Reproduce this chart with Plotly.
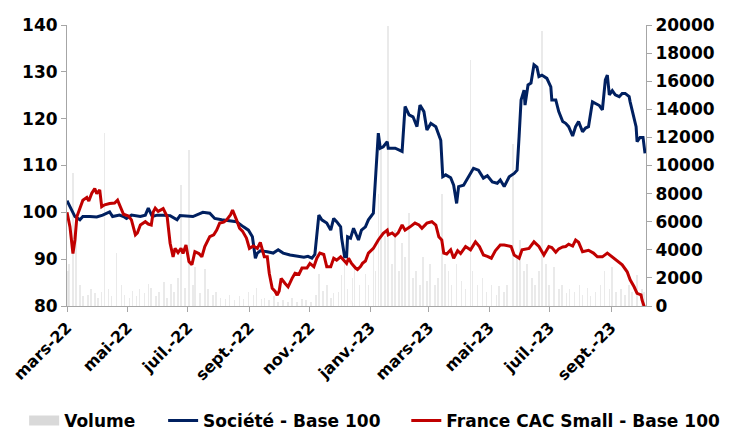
import plotly.graph_objects as go

# ---------------- data ----------------
soc_dates = ["2022-03-01","2022-03-06","2022-03-09","2022-03-14","2022-03-17","2022-03-24","2022-03-31",
 "2022-04-06","2022-04-13","2022-04-16","2022-04-23","2022-04-27","2022-04-30","2022-05-05","2022-05-14",
 "2022-05-19","2022-05-22","2022-05-26","2022-05-31","2022-06-06","2022-06-13","2022-06-20","2022-06-23",
 "2022-07-06","2022-07-11","2022-07-16","2022-07-23","2022-07-28","2022-08-04","2022-08-11","2022-08-19",
 "2022-08-26","2022-08-31","2022-09-04","2022-09-07","2022-09-09","2022-09-12","2022-09-19","2022-09-25",
 "2022-09-30","2022-10-05","2022-10-12","2022-10-19","2022-10-26","2022-10-30","2022-11-03","2022-11-06",
 "2022-11-10","2022-11-13","2022-11-18","2022-11-22","2022-11-25","2022-11-28","2022-12-02","2022-12-03",
 "2022-12-06","2022-12-08","2022-12-09","2022-12-12","2022-12-15","2022-12-20","2022-12-23","2022-12-27",
 "2022-12-30","2023-01-04","2023-01-06","2023-01-09","2023-01-11","2023-01-14","2023-01-18","2023-01-19",
 "2023-01-26","2023-02-02","2023-02-05","2023-02-09","2023-02-13","2023-02-17","2023-02-20","2023-02-24",
 "2023-02-27","2023-03-03","2023-03-08","2023-03-13","2023-03-15","2023-03-18","2023-03-23","2023-03-25",
 "2023-03-26","2023-03-29","2023-03-31","2023-04-05","2023-04-09","2023-04-12","2023-04-15","2023-04-20",
 "2023-04-25","2023-04-29","2023-05-04","2023-05-09","2023-05-12","2023-05-16","2023-05-21","2023-05-26",
 "2023-05-29","2023-05-31","2023-06-02","2023-06-05","2023-06-06","2023-06-09","2023-06-12","2023-06-15",
 "2023-06-18","2023-06-20","2023-06-23","2023-06-28","2023-07-02","2023-07-03","2023-07-07","2023-07-10",
 "2023-07-14","2023-07-17","2023-07-20","2023-07-24","2023-07-27","2023-07-30","2023-08-03","2023-08-06",
 "2023-08-09","2023-08-13","2023-08-16","2023-08-20","2023-08-23","2023-08-26","2023-08-28","2023-08-30",
 "2023-09-02","2023-09-05","2023-09-09","2023-09-12","2023-09-15","2023-09-19","2023-09-20","2023-09-23",
 "2023-09-26","2023-09-27","2023-09-30","2023-10-03","2023-10-05"]
soc_values = [102.5,100.5,99.1,98.4,99.1,99.1,99.0,
 99.4,100.1,99.1,99.4,99.1,98.7,99.4,99.1,
 99.4,100.9,99.1,99.4,99.4,99.3,98.4,99.3,
 99.1,99.5,100.0,99.8,98.7,98.4,98.2,98.0,
 96.9,96.2,94.8,90.2,91.3,91.8,91.6,91.3,
 92.0,91.3,90.9,90.7,90.4,90.6,90.2,91.0,
 99.4,98.4,97.7,96.2,98.7,98.0,96.9,94.5,
 90.5,90.5,94.8,94.5,96.6,94.1,96.2,96.9,
 98.4,99.8,106.2,116.9,113.7,114.0,115.1,113.7,
 113.7,113.0,122.6,120.8,120.4,118.3,122.9,121.5,
 117.6,119.0,118.3,115.4,107.6,108.0,107.4,106.2,
 105.8,101.9,105.5,105.8,107.3,108.3,109.4,109.0,
 107.3,107.8,106.5,106.2,106.9,105.5,107.6,108.3,
 109.0,116.2,124.0,126.1,122.9,127.2,127.6,131.5,
 131.0,129.0,129.3,128.6,126.8,124.0,124.0,121.5,
 119.4,119.0,118.3,116.3,118.3,119.4,117.2,118.0,
 118.3,123.6,123.2,122.8,121.9,128.3,129.3,125.1,
 126.0,125.1,124.7,125.4,125.4,124.7,123.6,121.1,
 118.3,115.1,116.0,116.0,112.6]

cac_dates = ["2022-03-01","2022-03-04","2022-03-07","2022-03-09","2022-03-11","2022-03-14","2022-03-17",
 "2022-03-21","2022-03-23","2022-03-26","2022-03-29","2022-03-31","2022-04-03","2022-04-05","2022-04-08",
 "2022-04-13","2022-04-18","2022-04-21","2022-04-24","2022-04-27","2022-05-02","2022-05-05","2022-05-09",
 "2022-05-11","2022-05-14","2022-05-19","2022-05-22","2022-05-25","2022-05-27","2022-05-29","2022-06-01",
 "2022-06-06","2022-06-10","2022-06-13","2022-06-16","2022-06-18","2022-06-21","2022-06-24","2022-06-26",
 "2022-06-29","2022-07-02","2022-07-05","2022-07-08","2022-07-12","2022-07-15","2022-07-18","2022-07-23",
 "2022-07-27","2022-07-30","2022-08-02","2022-08-06","2022-08-09","2022-08-13","2022-08-15","2022-08-19",
 "2022-08-22","2022-08-25","2022-08-29","2022-09-01","2022-09-05","2022-09-09","2022-09-12","2022-09-16",
 "2022-09-19","2022-09-21","2022-09-24","2022-09-27","2022-09-29","2022-10-01","2022-10-03","2022-10-07",
 "2022-10-10","2022-10-14","2022-10-17","2022-10-21","2022-10-24","2022-10-29","2022-11-01","2022-11-05",
 "2022-11-08","2022-11-11","2022-11-15","2022-11-18","2022-11-22","2022-11-25","2022-11-28","2022-12-02",
 "2022-12-05","2022-12-08","2022-12-10","2022-12-13","2022-12-17","2022-12-19","2022-12-22","2022-12-24",
 "2022-12-27","2022-12-30","2023-01-04","2023-01-09","2023-01-14","2023-01-18","2023-01-19","2023-01-23",
 "2023-01-26","2023-01-29","2023-02-02","2023-02-05","2023-02-10","2023-02-15","2023-02-19","2023-02-22",
 "2023-02-27","2023-03-04","2023-03-08","2023-03-11","2023-03-14","2023-03-16","2023-03-19","2023-03-23",
 "2023-03-26","2023-03-30","2023-04-02","2023-04-07","2023-04-12","2023-04-17","2023-04-21","2023-04-25",
 "2023-04-29","2023-05-03","2023-05-07","2023-05-12","2023-05-16","2023-05-23","2023-05-26","2023-05-31",
 "2023-06-03","2023-06-10","2023-06-15","2023-06-20","2023-06-25","2023-06-30","2023-07-03","2023-07-07",
 "2023-07-10","2023-07-14","2023-07-17","2023-07-20","2023-07-24","2023-07-27","2023-07-30","2023-08-03",
 "2023-08-09","2023-08-14","2023-08-18","2023-08-23","2023-08-28","2023-09-02","2023-09-07","2023-09-12",
 "2023-09-17","2023-09-20","2023-09-24","2023-09-27","2023-10-01","2023-10-02","2023-10-04","2023-10-05"]
cac_values = [100.0,96.9,91.2,94.1,99.1,100.9,102.6,
 103.2,102.4,104.1,105.1,104.0,104.8,101.2,101.6,
 101.9,102.0,102.6,101.2,99.6,99.2,98.4,95.2,
 95.6,97.3,98.0,97.5,97.3,100.1,100.9,100.2,
 100.8,99.1,93.4,90.5,92.3,91.4,92.3,91.2,
 93.0,89.5,88.8,91.6,91.2,90.5,92.7,94.8,
 95.2,96.2,97.7,97.9,98.4,99.5,100.5,98.4,
 96.6,96.0,94.5,92.3,92.8,92.3,93.6,90.5,
 90.5,87.0,83.8,83.1,82.3,83.2,85.9,84.8,
 84.1,85.9,87.0,86.8,88.1,88.1,89.1,88.4,
 90.2,91.3,91.0,88.4,88.4,90.2,89.8,90.5,
 89.9,89.1,90.2,89.1,88.1,87.8,88.4,89.1,
 89.6,91.3,92.3,94.1,95.5,96.2,95.2,95.6,
 95.0,95.6,97.3,96.2,96.9,97.7,97.3,96.6,
 97.7,98.0,97.3,94.8,94.1,91.3,91.1,92.0,
 90.2,91.8,91.2,92.7,92.0,93.7,92.7,90.9,
 90.6,90.2,91.8,93.0,93.0,92.7,90.9,90.2,
 92.0,92.3,93.7,92.7,90.9,92.7,92.5,91.5,
 92.2,92.6,92.7,93.2,92.8,94.1,93.6,91.6,
 91.9,91.3,90.5,90.5,91.3,90.5,89.5,88.8,
 87.3,85.6,84.1,82.7,82.4,81.3,80.0,79.3]

vol_dates = ["2022-03-02","2022-03-03","2022-03-07","2022-03-10","2022-03-14","2022-03-17","2022-03-22",
 "2022-03-25","2022-03-29","2022-04-01","2022-04-05","2022-04-08","2022-04-12","2022-04-15","2022-04-20",
 "2022-04-25","2022-04-28","2022-05-03","2022-05-06","2022-05-10","2022-05-13","2022-05-18","2022-05-22",
 "2022-05-25","2022-05-30","2022-06-02","2022-06-07","2022-06-10","2022-06-14","2022-06-17","2022-06-21",
 "2022-06-24","2022-06-28","2022-07-02","2022-07-06","2022-07-08","2022-07-13","2022-07-18","2022-07-21",
 "2022-07-26","2022-07-29","2022-08-03","2022-08-08","2022-08-12","2022-08-17","2022-08-22","2022-08-26",
 "2022-08-31","2022-09-05","2022-09-08","2022-09-13","2022-09-16","2022-09-21","2022-09-26","2022-09-30",
 "2022-10-05","2022-10-10","2022-10-14","2022-10-19","2022-10-24","2022-10-28","2022-11-02","2022-11-07",
 "2022-11-10","2022-11-14","2022-11-18","2022-11-22","2022-11-25","2022-11-30","2022-12-03","2022-12-06",
 "2022-12-09","2022-12-14","2022-12-16","2022-12-21","2022-12-27","2022-12-30","2023-01-04","2023-01-06",
 "2023-01-09","2023-01-12","2023-01-16","2023-01-19","2023-01-23","2023-01-26","2023-01-30","2023-02-02",
 "2023-02-05","2023-02-09","2023-02-13","2023-02-16","2023-02-20","2023-02-23","2023-02-27","2023-03-02",
 "2023-03-07","2023-03-10","2023-03-14","2023-03-17","2023-03-21","2023-03-24","2023-03-29","2023-04-03",
 "2023-04-07","2023-04-12","2023-04-14","2023-04-19","2023-04-24","2023-04-28","2023-05-03","2023-05-08",
 "2023-05-11","2023-05-16","2023-05-19","2023-05-25","2023-05-29","2023-06-01","2023-06-05","2023-06-08",
 "2023-06-13","2023-06-16","2023-06-20","2023-06-23","2023-06-27","2023-06-30","2023-07-05","2023-07-10",
 "2023-07-13","2023-07-18","2023-07-21","2023-07-26","2023-07-31","2023-08-03","2023-08-08","2023-08-11",
 "2023-08-16","2023-08-21","2023-08-25","2023-08-30","2023-09-02","2023-09-06","2023-09-11","2023-09-15",
 "2023-09-19","2023-09-22","2023-09-27","2023-10-02","2023-10-04"]
vol_values = [2500,3000,9500,6000,1500,700,800,
 1200,900,600,1000,12300,1200,700,3800,
 1500,800,600,1100,700,1200,900,1600,
 1300,700,1000,1700,600,1600,1000,2000,
 8600,1300,11100,1500,2800,900,2600,1200,
 800,1000,600,500,800,400,700,500,
 1000,800,1300,500,600,400,700,300,
 400,300,600,300,500,400,300,800,
 2300,1100,1500,600,900,1000,2200,3000,
 1200,2000,2800,1500,2300,1500,4000,2500,
 8000,11100,5000,19900,3000,5400,2500,4500,
 3500,6600,2000,2500,1500,3500,1800,3000,
 1500,2000,8000,3000,2500,1500,3000,1800,
 1200,17500,2500,1500,2000,1000,1500,800,
 1400,1000,1500,11500,3500,4700,2500,3000,
 2000,1500,2500,19600,3000,1500,2800,1200,
 1500,900,1200,1000,1500,800,1300,700,
 1000,1500,2500,1200,2800,1000,1200,800,
 1500,1000,2200,1200,1000]

tick_dates = ["2022-03-01","2022-05-01","2022-07-01","2022-09-01","2022-11-01",
              "2023-01-01","2023-03-01","2023-05-01","2023-07-01","2023-09-01"]
tick_labels = ["mars-22","mai-22","juil.-22","sept.-22","nov.-22",
               "janv.-23","mars-23","mai-23","juil.-23","sept.-23"]

FONT = "DejaVu Sans"
TICKFONT = dict(family=FONT, size=17, color="black", weight="bold")
XTICKFONT = dict(family=FONT, size=16, color="black", weight="bold")
LEGFONT = dict(family=FONT, size=17, color="black", weight="bold")

fig = go.Figure()
fig.add_trace(go.Bar(x=vol_dates, y=vol_values, name="Volume", yaxis="y", showlegend=False,
                     marker=dict(color="#d9d9d9", opacity=0.55, line=dict(width=0)),
                     width=86400000 * 0.6))
# legend entry for the volume bars (wide grey swatch, as in the original)
fig.add_trace(go.Scatter(x=[None], y=[None], name="Volume", yaxis="y", legend="legend",
                         mode="lines", line=dict(color="#d9d9d9", width=14)))
fig.add_trace(go.Scatter(x=soc_dates, y=soc_values, name="Société - Base 100", yaxis="y2",
                         legend="legend2",
                         mode="lines", line=dict(color="#002060", width=3)))
fig.add_trace(go.Scatter(x=cac_dates, y=cac_values, name="France CAC Small - Base 100", yaxis="y2",
                         legend="legend3",
                         mode="lines", line=dict(color="#C00000", width=3)))

leg_common = dict(orientation="h", xanchor="left", y=-0.409, yanchor="middle",
                  font=LEGFONT, bgcolor="rgba(0,0,0,0)", itemwidth=30)

fig.update_layout(
    width=721, height=423,
    margin=dict(l=59, r=83, t=17, b=125, autoexpand=False),
    paper_bgcolor="white", plot_bgcolor="white",
    showlegend=True,
    bargap=0,
    legend=dict(x=-0.074, **leg_common),
    legend2=dict(x=0.166, **leg_common),
    legend3=dict(x=0.586, **leg_common),
    xaxis=dict(type="date", range=["2022-03-01", "2023-10-06"], automargin=False,
               tickvals=tick_dates, ticktext=tick_labels, tickangle=-45,
               tickfont=XTICKFONT, showgrid=False, showline=True, linecolor="#a6a6a6",
               linewidth=1, ticks="outside", ticklen=5, tickcolor="#a6a6a6", zeroline=False),
    yaxis=dict(side="right", range=[0, 20000], tickvals=list(range(0, 20001, 2000)),
               tickformat="d", automargin=False,
               tickfont=TICKFONT, showgrid=False, showline=True, linecolor="#a6a6a6",
               ticks="outside", ticklen=5, tickcolor="#a6a6a6", zeroline=False),
    yaxis2=dict(overlaying="y", side="left", range=[80, 140], tickvals=list(range(80, 141, 10)),
                automargin=False,
                tickfont=TICKFONT, showgrid=False, showline=True, linecolor="#a6a6a6",
                ticks="outside", ticklen=5, tickcolor="#a6a6a6", zeroline=False),
)

fig.write_html("out.html")
